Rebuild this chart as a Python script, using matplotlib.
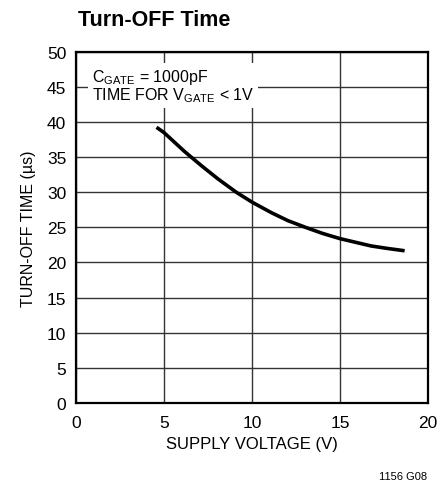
import matplotlib.pyplot as plt
from matplotlib import font_manager as fm

# font: condensed helvetica-like if present
names = set(f.name for f in fm.fontManager.ttflist)
fam = 'Liberation Sans Narrow' if 'Liberation Sans Narrow' in names else 'Liberation Sans'
plt.rcParams['font.family'] = [fam, 'DejaVu Sans']
plt.rcParams['mathtext.fontset'] = 'custom'
plt.rcParams['mathtext.rm'] = fam
plt.rcParams['mathtext.it'] = fam

# data
supply_v = [4.66, 5, 6.17, 7.12, 8.07, 9.11, 10, 11.1, 12.05, 13.05, 14, 15, 16.78, 17.7, 18.58]
turnoff_us = [39.1, 38.5, 35.8, 33.8, 31.9, 30.0, 28.6, 27.1, 25.95, 25.0, 24.15, 23.4, 22.35, 22.0, 21.7]
xticks = [0, 5, 10, 15, 20]
yticks = [0, 5, 10, 15, 20, 25, 30, 35, 40, 45, 50]

fig = plt.figure(figsize=(4.37, 4.89), dpi=100)
ax = fig.add_axes([0.174, 0.174, 0.805, 0.718])

ax.plot(supply_v, turnoff_us, color='black', lw=2.6, solid_joinstyle='round', zorder=4)

ax.set_xlim(0, 20)
ax.set_ylim(0, 50)
ax.set_xticks(xticks)
ax.set_yticks(yticks)
ax.grid(True, color='#333333', lw=1.0)
ax.tick_params(length=0, labelsize=12.5)
ax.tick_params(axis='x', pad=9)
ax.tick_params(axis='y', pad=7)
for s in ax.spines.values():
    s.set_linewidth(1.6)

ax.text(0.9, 45.2, r'C$_{\mathrm{GATE}}$ = 1000pF' + '\n' + r'TIME FOR V$_{\mathrm{GATE}}$ < 1V',
        fontsize=11.5, va='center', ha='left', linespacing=0.9, zorder=3,
        bbox=dict(facecolor='white', edgecolor='none', pad=3))

ax.set_xlabel('SUPPLY VOLTAGE (V)', fontsize=12, labelpad=4)
ax.set_ylabel('TURN-OFF TIME (µs)', fontsize=11.5, labelpad=8)

fig.text(0.178, 0.958, 'Turn-OFF Time', fontsize=15.5, fontweight='bold', va='center', ha='left')
fig.text(0.977, 0.0245, '1156 G08', fontsize=8, ha='right', va='center')

fig.savefig('out.png', dpi=100)
